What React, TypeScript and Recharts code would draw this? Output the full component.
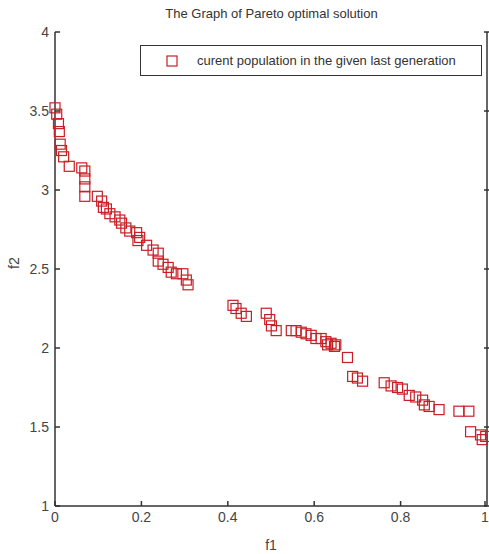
import { ScatterChart, Scatter, XAxis, YAxis, Legend } from "recharts";

// f1 / f2 values
const f1Values = [
  0.0, 0.004, 0.008, 0.01, 0.012, 0.015, 0.02, 0.033, 0.062, 0.069, 0.069, 0.069, 0.069,
  0.098, 0.108, 0.112, 0.119, 0.127, 0.139, 0.15, 0.154, 0.164, 0.173, 0.189, 0.196, 0.192,
  0.212, 0.227, 0.239, 0.239, 0.25, 0.262, 0.269, 0.281, 0.296, 0.304, 0.308,
  0.412, 0.419, 0.431, 0.443, 0.489, 0.497, 0.501, 0.512,
  0.547, 0.558, 0.57, 0.581, 0.593, 0.604, 0.616, 0.627, 0.631, 0.639, 0.647, 0.65,
  0.677, 0.689, 0.7, 0.712, 0.762, 0.778, 0.793, 0.804, 0.82, 0.835, 0.851, 0.855, 0.866,
  0.889, 0.935, 0.958, 0.962, 0.985, 0.989, 0.997,
];
const f2Values = [
  3.52, 3.48, 3.42, 3.37, 3.29, 3.25, 3.21, 3.15, 3.14, 3.12, 3.07, 3.02, 2.96,
  2.96, 2.93, 2.89, 2.88, 2.85, 2.83, 2.81, 2.79, 2.76, 2.74, 2.73, 2.7, 2.68,
  2.65, 2.62, 2.6, 2.55, 2.53, 2.51, 2.48, 2.47, 2.47, 2.43, 2.4,
  2.27, 2.25, 2.22, 2.2, 2.22, 2.18, 2.14, 2.11,
  2.11, 2.11, 2.1, 2.09, 2.08, 2.06, 2.06, 2.04, 2.02, 2.03, 2.01, 2.02,
  1.94, 1.82, 1.81, 1.79, 1.78, 1.76, 1.75, 1.74, 1.7, 1.69, 1.67, 1.64, 1.63,
  1.61, 1.6, 1.6, 1.47, 1.45, 1.42, 1.44,
];
const xTicks = [0, 0.2, 0.4, 0.6, 0.8, 1];
const yTicks = [1, 1.5, 2, 2.5, 3, 3.5, 4];

const data = f1Values.map((f1, i) => ({ f1, f2: f2Values[i] }));

const RED = "#c81e24";
const AXIS = "#333";
const FONT = "'Liberation Sans', Arial, sans-serif";

const Square = (props: any) => {
  const { cx, cy } = props;
  return <rect x={cx - 5} y={cy - 5} width={10} height={10} fill="none" stroke={RED} strokeWidth={1.2} />;
};

// ticks drawn inward like a matlab box
const BottomTick = ({ x, y, payload }: any) => (
  <g>
    <line x1={x} x2={x} y1={y - 6} y2={y - 11} stroke={AXIS} strokeWidth={1.5} />
    <text x={x} y={y} dy={10} textAnchor="middle" fill="#444" fontSize={14} fontFamily={FONT}>
      {payload.value}
    </text>
  </g>
);
const LeftTick = ({ x, y, payload }: any) => (
  <g>
    <line x1={x + 6} x2={x + 11} y1={y} y2={y} stroke={AXIS} strokeWidth={1.5} />
    <text x={x} y={y} dy={5} textAnchor="end" fill="#444" fontSize={14} fontFamily={FONT}>
      {payload.value}
    </text>
  </g>
);
const TopTick = ({ x, y }: any) => (
  <line x1={x} x2={x} y1={y} y2={y + 5} stroke={AXIS} strokeWidth={1.5} />
);
const RightTick = ({ x, y }: any) => (
  <line x1={x} x2={x - 5} y1={y} y2={y} stroke={AXIS} strokeWidth={1.5} />
);

const LegendBox = () => (
  <div
    style={{
      width: 342,
      height: 31,
      border: "1px solid #333",
      background: "#fff",
      display: "flex",
      alignItems: "center",
      fontFamily: FONT,
      fontSize: 13,
      color: "#333",
      boxSizing: "border-box",
    }}
  >
    <svg width={56} height={31}>
      <rect x={26} y={11} width={10} height={10} fill="none" stroke={RED} strokeWidth={1.2} />
    </svg>
    <span>curent population in the given last generation</span>
  </div>
);

export default function App() {
  return (
    <div style={{ position: "absolute", left: 0, top: 0, width: 489, height: 554, background: "#fff" }}>
      <div
        style={{
          position: "absolute",
          top: 6,
          left: 55,
          width: 433,
          textAlign: "center",
          fontFamily: FONT,
          fontSize: 13,
          color: "#333",
        }}
      >
        The Graph of Pareto optimal solution
      </div>
      <ScatterChart width={489} height={554} margin={{ top: 32, right: 1, bottom: 0, left: 0 }}>
        <XAxis
          dataKey="f1"
          type="number"
          domain={[0, 1]}
          ticks={xTicks}
          height={48}
          tickSize={0}
          tickMargin={6}
          tickLine={false}
          tick={<BottomTick />}
          axisLine={{ stroke: AXIS, strokeWidth: 1.5 }}
          label={{ value: "f1", position: "insideBottom", offset: 4, fill: "#444", fontSize: 14, fontFamily: FONT }}
        />
        <XAxis
          xAxisId="top"
          orientation="top"
          type="number"
          domain={[0, 1]}
          allowDataOverflow
          ticks={xTicks}
          height={0}
          tickSize={0}
          tickLine={false}
          tick={<TopTick />}
          axisLine={{ stroke: AXIS, strokeWidth: 1.5 }}
        />
        <YAxis
          dataKey="f2"
          type="number"
          domain={[1, 4]}
          ticks={yTicks}
          width={55}
          tickSize={0}
          tickMargin={6}
          tickLine={false}
          tick={<LeftTick />}
          axisLine={{ stroke: AXIS, strokeWidth: 1.5 }}
          label={{ value: "f2", angle: -90, position: "insideLeft", offset: 14, fill: "#444", fontSize: 14, fontFamily: FONT }}
        />
        <YAxis
          yAxisId="right"
          orientation="right"
          type="number"
          domain={[1, 4]}
          allowDataOverflow
          ticks={yTicks}
          width={1}
          tickSize={0}
          tickLine={false}
          tick={<RightTick />}
          axisLine={{ stroke: AXIS, strokeWidth: 1.5 }}
        />
        <Legend
          layout="horizontal"
          verticalAlign="middle"
          align="center"
          content={<LegendBox />}
          wrapperStyle={{ position: "absolute", left: 140, top: 45, width: 342 }}
        />
        <Scatter data={data} shape={<Square />} isAnimationActive={false} />
      </ScatterChart>
    </div>
  );
}
